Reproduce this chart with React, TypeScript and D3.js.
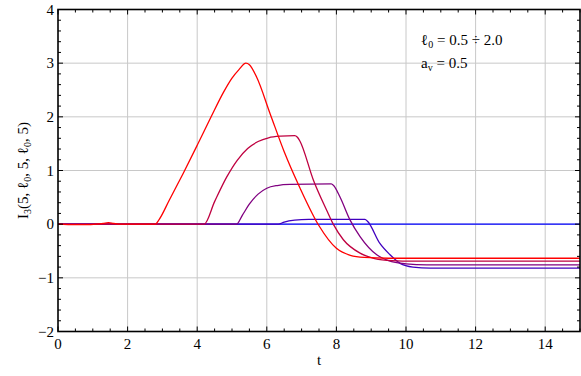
import React from "react";
import * as d3 from "d3";

const W = 581;
const H = 376;

// Series data (t, value), ℓ0 = 0.5 … 2.0
const redT = [0, 0.5, 0.8, 1.1, 1.3, 1.45, 1.6, 1.8, 2.8, 2.9, 3.2, 3.6, 4.0, 4.4, 4.75, 5.0, 5.2, 5.4, 5.5, 5.7, 6.1, 6.5, 6.95, 7.5, 8.0, 8.4, 8.8, 9.5, 15];
const redV = [0, -0.01, -0.01, 0, 0.015, 0.03, 0.015, 0, 0, 0.08, 0.45, 0.95, 1.47, 2.0, 2.45, 2.72, 2.88, 3.0, 2.97, 2.75, 2.05, 1.35, 0.68, -0.03, -0.45, -0.58, -0.62, -0.635, -0.635];

const crimsonT = [0, 4.2, 4.5, 4.85, 5.15, 5.45, 5.75, 6.05, 6.4, 6.8, 6.88, 6.95, 7.34, 7.72, 7.91, 8.2, 8.68, 9.1, 9.6, 10.2, 15];
const crimsonV = [0, 0, 0.42, 0.88, 1.19, 1.41, 1.54, 1.61, 1.64, 1.65, 1.62, 1.55, 0.82, 0.26, 0.0, -0.29, -0.54, -0.64, -0.68, -0.69, -0.69];

const purpleT = [0, 5.13, 5.3, 5.52, 5.75, 6.0, 6.3, 6.67, 7.85, 7.92, 8.1, 8.39, 8.68, 9.16, 9.5, 10.0, 10.6, 15];
const purpleV = [0, 0, 0.17, 0.39, 0.56, 0.67, 0.72, 0.74, 0.75, 0.72, 0.51, 0.08, -0.23, -0.57, -0.68, -0.74, -0.76, -0.76];

const violetT = [0, 6.33, 6.5, 6.8, 7.2, 8.82, 8.9, 9.25, 9.54, 9.83, 10.2, 10.7, 15];
const violetV = [0, 0, 0.04, 0.075, 0.088, 0.09, 0.05, -0.36, -0.57, -0.73, -0.8, -0.82, -0.82];

const blueT = [0, 15];
const blueV = [0, 0];

const seriesColors = ["#ff0000", "#bf0040", "#800080", "#4000bf", "#0000ff"];

const xTicks = [0, 2, 4, 6, 8, 10, 12, 14];
const yTicks = [-2, -1, 0, 1, 2, 3, 4];

const margin = { left: 58, right: 1, top: 9.5, bottom: 44.5 };
const FONT = "'Liberation Serif', 'DejaVu Serif', serif";

export default function App() {
  const x = d3.scaleLinear().domain([0, 15]).range([margin.left, W - margin.right]);
  const y = d3.scaleLinear().domain([-2, 4]).range([H - margin.bottom, margin.top]);

  const series = [
    { t: redT, v: redV, c: seriesColors[0] },
    { t: crimsonT, v: crimsonV, c: seriesColors[1] },
    { t: purpleT, v: purpleV, c: seriesColors[2] },
    { t: violetT, v: violetV, c: seriesColors[3] },
    { t: blueT, v: blueV, c: seriesColors[4] },
  ];

  const line = d3
    .line<[number, number]>()
    .x((d) => x(d[0]))
    .y((d) => y(d[1]))
    .curve(d3.curveMonotoneX);

  const x0 = x(0), x1 = x(15), y0 = y(-2), y1 = y(4);

  const xMinor = d3.range(0, 15.001, 0.5);
  const yMinor = d3.range(-2, 4.001, 0.2);

  const ts = { fontFamily: FONT };

  return (
    <svg width={W} height={H} style={{ position: "absolute", left: 0, top: 0, background: "#fff", fontFamily: FONT }}>
      <rect x={0} y={0} width={W} height={H} fill="#fff" />
      {xTicks.filter((t) => t > 0).map((t) => (
        <line key={"gx" + t} x1={x(t)} x2={x(t)} y1={y1} y2={y0} stroke="#c8c8c8" strokeWidth={1} />
      ))}
      {yTicks.filter((t) => t > -2 && t < 4).map((t) => (
        <line key={"gy" + t} x1={x0} x2={x1} y1={y(t)} y2={y(t)} stroke="#c8c8c8" strokeWidth={1} />
      ))}
      {series.slice().reverse().map((s, i) => (
        <path
          key={"s" + i}
          d={line(s.t.map((t, j) => [t, s.v[j]] as [number, number])) || ""}
          fill="none"
          stroke={s.c}
          strokeWidth={1.3}
          strokeLinejoin="round"
        />
      ))}
      {xMinor.map((t) => {
        const major = Math.abs(t / 2 - Math.round(t / 2)) < 1e-6;
        const len = major ? 5 : 3;
        return (
          <g key={"xt" + t}>
            <line x1={x(t)} x2={x(t)} y1={y0} y2={y0 - len} stroke="#000" strokeWidth={1} />
            <line x1={x(t)} x2={x(t)} y1={y1} y2={y1 + len} stroke="#000" strokeWidth={1} />
          </g>
        );
      })}
      {yMinor.map((t) => {
        const major = Math.abs(t - Math.round(t)) < 1e-6;
        const len = major ? 5 : 3;
        return (
          <g key={"yt" + t.toFixed(1)}>
            <line x1={x0} x2={x0 + len} y1={y(t)} y2={y(t)} stroke="#000" strokeWidth={1} />
            <line x1={x1} x2={x1 - len} y1={y(t)} y2={y(t)} stroke="#000" strokeWidth={1} />
          </g>
        );
      })}
      <rect x={x0} y={y1} width={x1 - x0} height={y0 - y1} fill="none" stroke="#000" strokeWidth={1.6} />
      {xTicks.map((t) => (
        <text key={"xl" + t} x={x(t)} y={y0 + 17} textAnchor="middle" fontSize={15} fill="#000" style={ts}>
          {t}
        </text>
      ))}
      {yTicks.map((t) => (
        <text key={"yl" + t} x={x0 - 4} y={y(t) + 5} textAnchor="end" fontSize={15} fill="#000" style={ts}>
          {t < 0 ? "\u2212" + Math.abs(t) : t}
        </text>
      ))}
      <text x={(x0 + x1) / 2} y={365} textAnchor="middle" fontSize={15} fill="#000" style={ts}>t</text>
      <text transform={`translate(28, ${(y0 + y1) / 2}) rotate(-90)`} textAnchor="middle" fontSize={15} fill="#000" style={ts}>
        I<tspan fontSize={10} dy={3}>3</tspan>
        <tspan dy={-3}>(5, ℓ</tspan>
        <tspan fontSize={10} dy={3}>0</tspan>
        <tspan dy={-3}>, 5, ℓ</tspan>
        <tspan fontSize={10} dy={3}>0</tspan>
        <tspan dy={-3}>, 5)</tspan>
      </text>
      <text x={421} y={45} fontSize={15} fill="#000" style={ts}>
        ℓ<tspan fontSize={10} dy={3}>0</tspan>
        <tspan dy={-3}> = 0.5 ÷ 2.0</tspan>
      </text>
      <text x={421} y={68} fontSize={15} fill="#000" style={ts}>
        a<tspan fontSize={10} dy={3}>v</tspan>
        <tspan dy={-3}> = 0.5</tspan>
      </text>
    </svg>
  );
}
